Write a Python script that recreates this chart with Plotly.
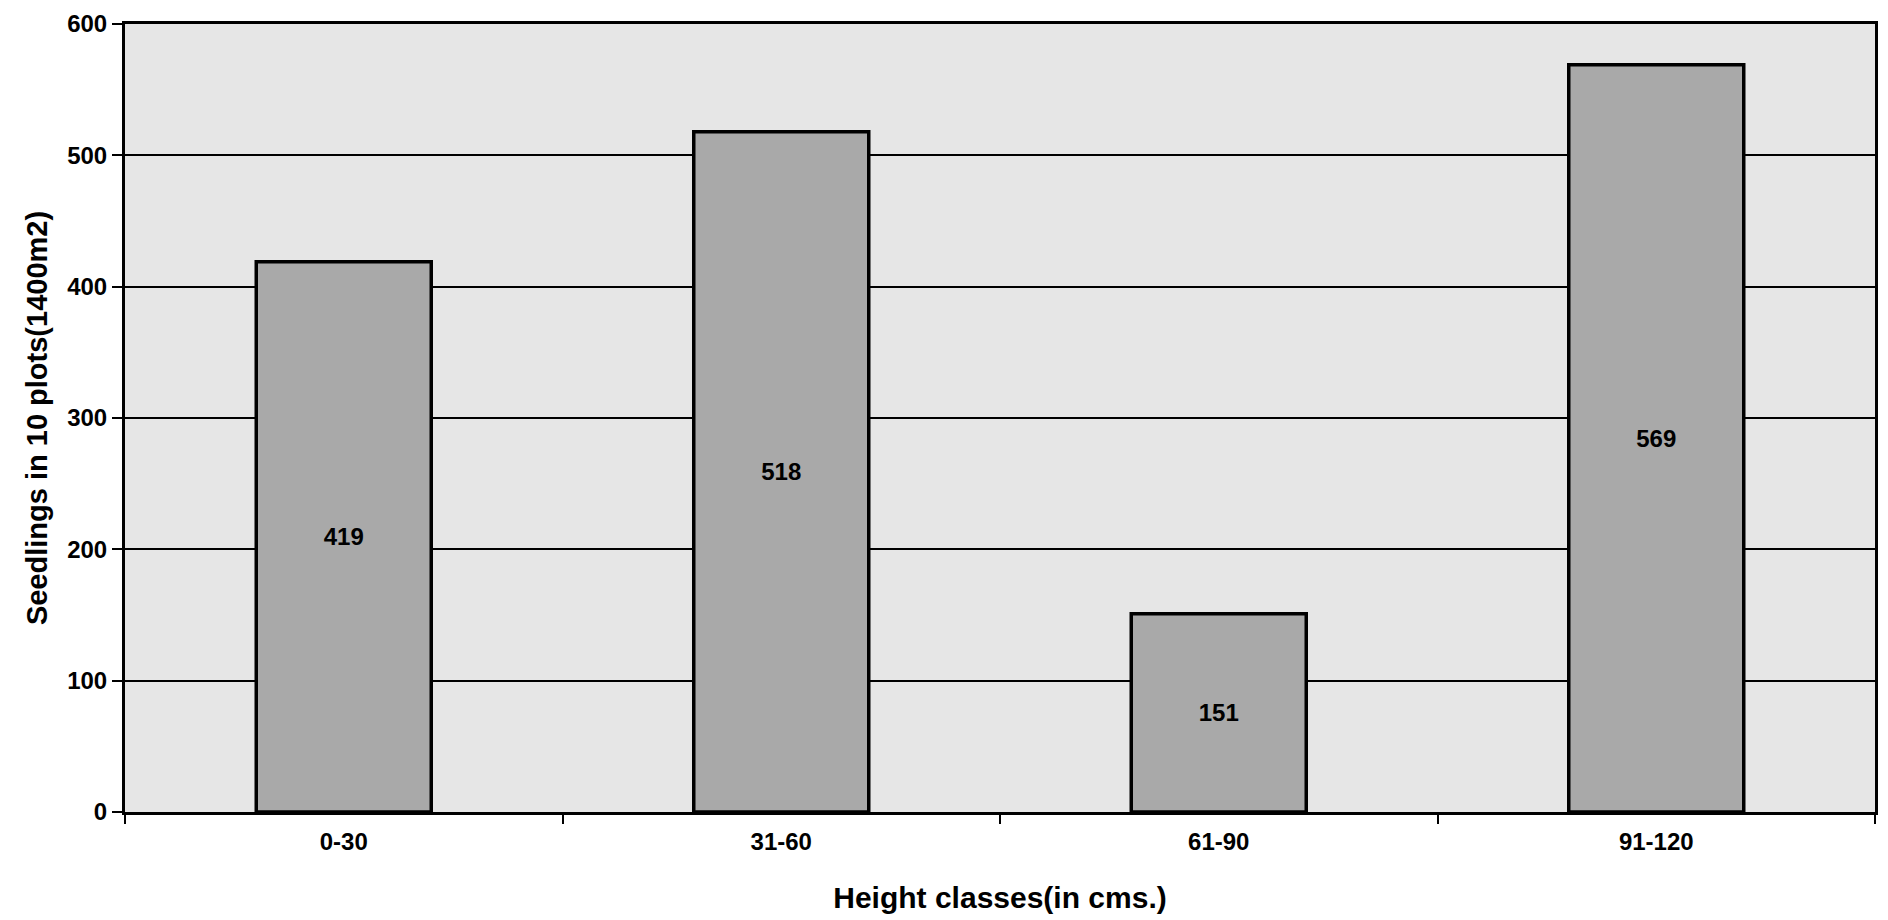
import plotly.graph_objects as go

# Seedling counts by height class
height_classes = ["0-30", "31-60", "61-90", "91-120"]
seedlings = [419, 518, 151, 569]
y_ticks = [0, 100, 200, 300, 400, 500, 600]

FONT = "Liberation Sans, Arial, sans-serif"

fig = go.Figure(
    go.Bar(
        x=height_classes,
        y=seedlings,
        width=0.4,
        marker=dict(color="#a9a9a9", line=dict(color="black", width=3.5)),
        text=[f"<b>{v}</b>" for v in seedlings],
        textposition="inside",
        insidetextanchor="middle",
        textangle=0,
        textfont=dict(family=FONT, size=24, color="black"),
        cliponaxis=False,
    )
)

fig.update_layout(
    width=1888,
    height=920,
    margin=dict(l=125, r=10, t=18, b=108),
    paper_bgcolor="white",
    plot_bgcolor="#e6e6e6",
    showlegend=False,
    font=dict(family=FONT, color="black"),
)

fig.update_xaxes(
    type="category",
    range=[-0.5, 3.5],
    tickson="boundaries",
    ticks="outside",
    ticklen=9,
    tickwidth=2,
    tickcolor="black",
    tickfont=dict(size=24, family=FONT, weight="bold"),
    ticklabelstandoff=6,
    showgrid=False,
    showline=True,
    linecolor="black",
    linewidth=3,
    mirror=True,
    title=dict(
        text="<b>Height classes(in cms.)</b>",
        font=dict(size=30, family=FONT),
        standoff=34,
    ),
)

fig.update_yaxes(
    range=[0, 600],
    tickvals=y_ticks,
    ticks="outside",
    ticklen=10,
    tickwidth=2,
    tickcolor="black",
    tickfont=dict(size=24, family=FONT, weight="bold"),
    showgrid=True,
    gridcolor="black",
    gridwidth=1.5,
    showline=True,
    linecolor="black",
    linewidth=3,
    mirror=True,
    zeroline=False,
    title=dict(
        text="<b>Seedlings in 10 plots(1400m2)</b>",
        font=dict(size=29, family=FONT),
        standoff=12,
    ),
)

fig.write_html("out.html")
